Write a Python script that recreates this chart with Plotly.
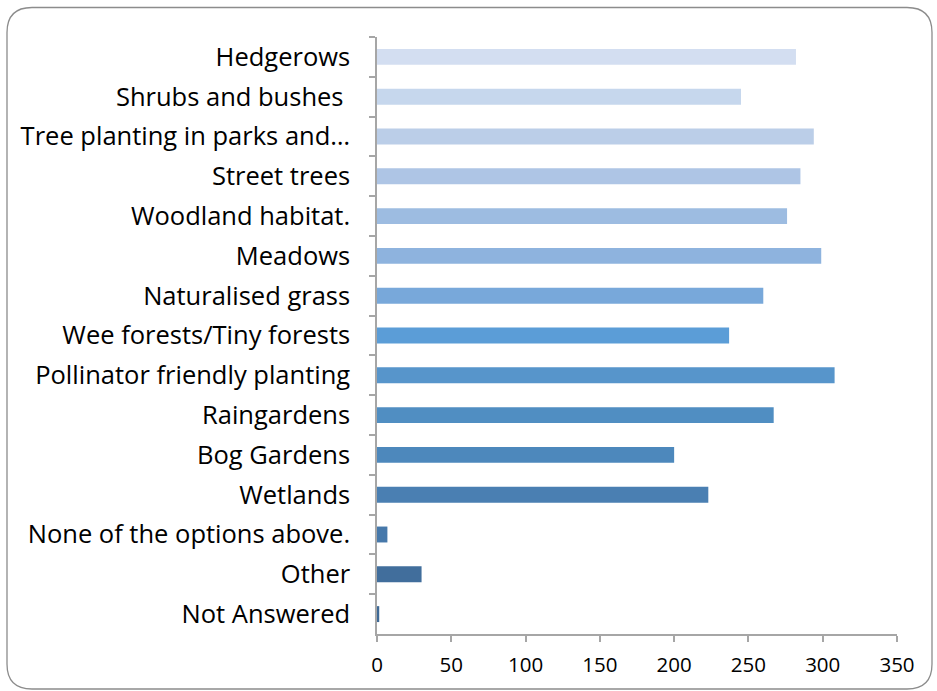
import plotly.graph_objects as go

categories = ["Hedgerows", "Shrubs and bushes\u00a0", "Tree planting in parks and…", "Street trees",
              "Woodland habitat.", "Meadows", "Naturalised grass", "Wee forests/Tiny forests",
              "Pollinator friendly planting", "Raingardens", "Bog Gardens", "Wetlands",
              "None of the options above.", "Other", "Not Answered"]
values = [282, 245, 294, 285, 276, 299, 260, 237, 308, 267, 200, 223, 7, 30, 1.5]
colors = ["#D3DEF1", "#C6D7ED", "#BBCEE8", "#AEC5E5", "#9DBCE1", "#8EB3DE", "#78A8DA", "#5B9DD7",
          "#5795CB", "#508EC2", "#4D88BC", "#4A7FB2", "#4678AA", "#416E9C", "#3E6996"]
x_ticks = [0, 50, 100, 150, 200, 250, 300, 350]

W, H = 937, 691
L, R, T, B = 377, 897, 37, 634

fig = go.Figure(go.Bar(
    y=categories, x=values, orientation="h",
    marker=dict(color=colors, line=dict(width=0)),
    width=0.4,
))

def px(x):
    return (x - L) / (R - L)

def py(y):
    return (B - y) / (B - T)

# rounded border
bl, br, bt, bb, r = 7, 932, 7.5, 689, 25
path = (f"M {px(bl + r)},{py(bt)} L {px(br - r)},{py(bt)} "
        f"Q {px(br)},{py(bt)} {px(br)},{py(bt + r)} "
        f"L {px(br)},{py(bb - r)} Q {px(br)},{py(bb)} {px(br - r)},{py(bb)} "
        f"L {px(bl + r)},{py(bb)} Q {px(bl)},{py(bb)} {px(bl)},{py(bb - r)} "
        f"L {px(bl)},{py(bt + r)} Q {px(bl)},{py(bt)} {px(bl + r)},{py(bt)} Z")

fig.update_layout(
    width=W, height=H,
    margin=dict(l=L, r=W - R, t=T, b=H - B, pad=0),
    paper_bgcolor="white", plot_bgcolor="white",
    showlegend=False,
    font=dict(family="Open Sans, Carlito, Calibri, sans-serif", color="black"),
    shapes=[dict(type="path", path=path, xref="paper", yref="paper",
                 line=dict(color="#8C8C8C", width=1.3), layer="below")],
    xaxis=dict(range=[0, 350], tickvals=x_ticks, ticktext=[str(v) for v in x_ticks],
               showgrid=False, zeroline=False, showline=True, linecolor="#A6A6A6", linewidth=1.5,
               ticks="outside", ticklen=6, tickcolor="#A6A6A6", tickwidth=1.5,
               ticklabelstandoff=6,
               tickfont=dict(size=20.5), fixedrange=True),
    yaxis=dict(categoryorder="array", categoryarray=categories, autorange="reversed",
               showgrid=False, zeroline=False, showline=True, linecolor="#A6A6A6", linewidth=1.5,
               ticks="outside", ticklen=6, tickcolor="#A6A6A6", tickwidth=1.5,
               tickson="boundaries", ticklabelstandoff=20,
               tickfont=dict(size=25.5), fixedrange=True),
)

fig.write_html("out.html", config={"displayModeBar": False},
               post_script="document.body.style.margin='0';document.body.style.padding='0';")
